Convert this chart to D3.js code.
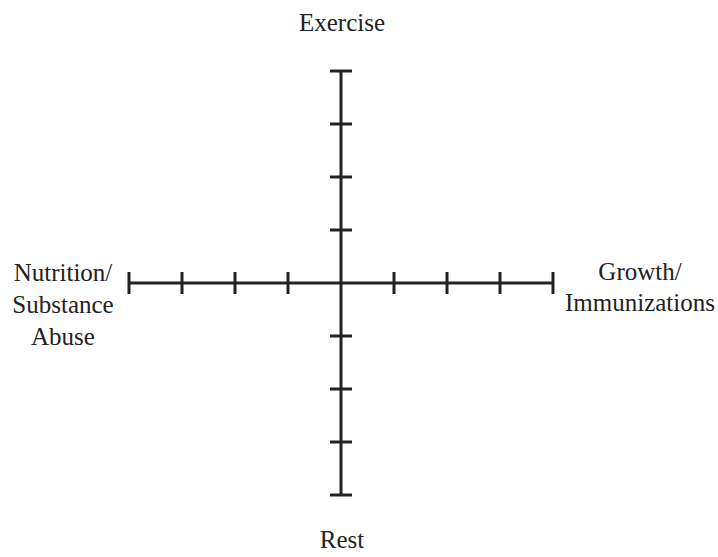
<!DOCTYPE html>
<html>
<head>
<meta charset="utf-8">
<script src="https://cdn.jsdelivr.net/npm/d3@7"></script>
<style>
  body { margin: 0; background: #fff; }
  text { font-family: "Liberation Serif", "DejaVu Serif", serif; fill: #222; }
</style>
</head>
<body>
<svg id="chart" width="718" height="557"></svg>
<script>
// axis labels (each entry = lines of the label)
var axisNames = ["Exercise", "Growth/ Immunizations", "Rest", "Nutrition/ Substance Abuse"];
var axisAngles = [-90, 0, 90, 180];   // degrees, screen coords
var tickValues = [1, 2, 3, 4];
var maxValue = 4;

var svg = d3.select("#chart");
var cx = 341, cy = 283, radius = 212;

var r = d3.scaleLinear().domain([0, maxValue]).range([0, radius]);

var g = svg.append("g").attr("transform", "translate(" + cx + "," + cy + ")");

// one group per axis, rotated
var axes = g.selectAll("g.axis")
  .data(axisAngles)
  .enter().append("g")
  .attr("class", "axis")
  .attr("transform", function(d) { return "rotate(" + d + ")"; });

axes.append("line")
  .attr("x1", 0).attr("y1", 0)
  .attr("x2", r(maxValue)).attr("y2", 0)
  .style("stroke", "#222").style("stroke-width", 3);

axes.selectAll("line.tick")
  .data(tickValues)
  .enter().append("line")
  .attr("class", "tick")
  .attr("x1", function(d) { return r(d); }).attr("x2", function(d) { return r(d); })
  .attr("y1", -11).attr("y2", 11)
  .style("stroke", "#222").style("stroke-width", 3);

/**************** labels ****************/
var labelPos = [
  { x: 342, y: 31, lh: 31 },
  { x: 640, y: 280, lh: 31 },
  { x: 342, y: 548, lh: 31 },
  { x: 63, y: 281, lh: 32 }
];

axisNames.forEach(function(name, i) {
  var lines = name.split(" ");
  var t = svg.append("text")
    .attr("text-anchor", "middle")
    .style("font-size", "25px");
  lines.forEach(function(l, j) {
    t.append("tspan")
      .attr("x", labelPos[i].x)
      .attr("y", labelPos[i].y + j * labelPos[i].lh)
      .text(l);
  });
});
</script>
</body>
</html>
